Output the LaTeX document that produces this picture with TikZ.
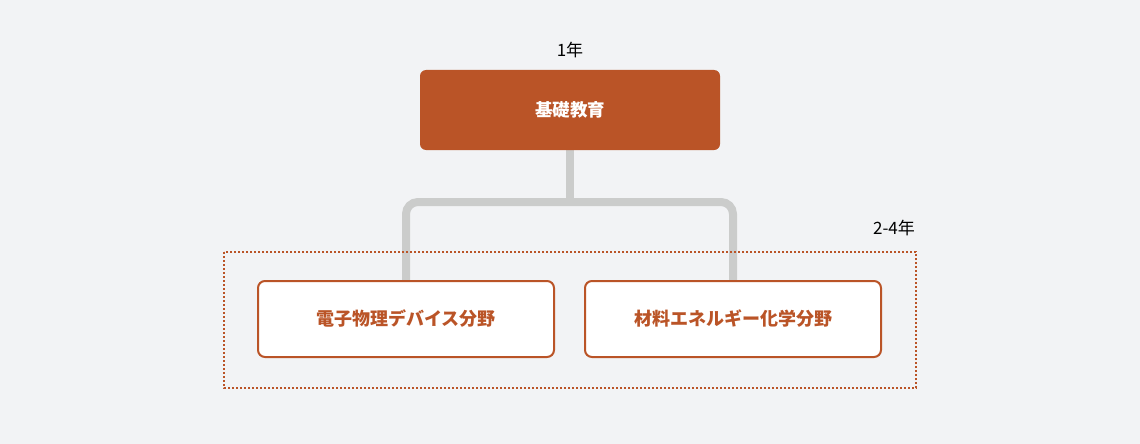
\documentclass[tikz,border=0pt]{standalone}
\usepackage{fontspec}
\setmainfont{Noto Sans CJK JP}
\usepackage{xcolor}
\usetikzlibrary{positioning}
\definecolor{pagebg}{HTML}{F2F3F5}
\definecolor{rust}{HTML}{BA5427}
\definecolor{linkgrey}{HTML}{CBCCCB}
\pgfdeclarelayer{back}
\pgfsetlayers{back,main}

\tikzset{
  basebox/.style={fill=rust, rounded corners=6pt, minimum width=300pt,
    minimum height=80pt, text=white, font=\fontsize{17.5}{20}\selectfont\bfseries},
  fieldbox/.style={draw=rust, line width=2pt, fill=white, rounded corners=7pt,
    minimum width=296pt, minimum height=76pt, text=rust,
    font=\fontsize{18}{20}\selectfont\bfseries},
  yearlabel/.style={text=black, font=\fontsize{17}{20}\selectfont},
  link/.style={draw=linkgrey, line width=8pt, rounded corners=12pt},
  spanbox/.style={draw=rust, line width=1.6pt, dash pattern=on 1.6pt off 2.4pt}
}

\begin{document}
\begin{tikzpicture}[x=1pt, y=-1pt]
        \begin{pgfonlayer}{back}
          \fill[pagebg] (0,0) rectangle (1140,444);
        \end{pgfonlayer}
        \useasboundingbox (0,0) rectangle (1140,444);
        % year groups
        \node[yearlabel] (firstyear) at (570,50) {1年};
        \node[yearlabel] (lateryears) at (894,228) {2-4年};
        \draw[spanbox] (224,252) rectangle (916,388);
        % boxes
        \node[basebox] (base) at (570,110) {基礎教育};
        \node[fieldbox] (elec) at (406,319) {電子物理デバイス分野};
        \node[fieldbox] (chem) at (733,319) {材料エネルギー化学分野};
        % tree links
        \coordinate (junc) at (570,202);
        \begin{pgfonlayer}{back}
          \draw[link] (base.south) -- (junc);
          \draw[link] (elec.north) |- (junc) -| (chem.north);
        \end{pgfonlayer}
      \end{tikzpicture}
\end{document}
